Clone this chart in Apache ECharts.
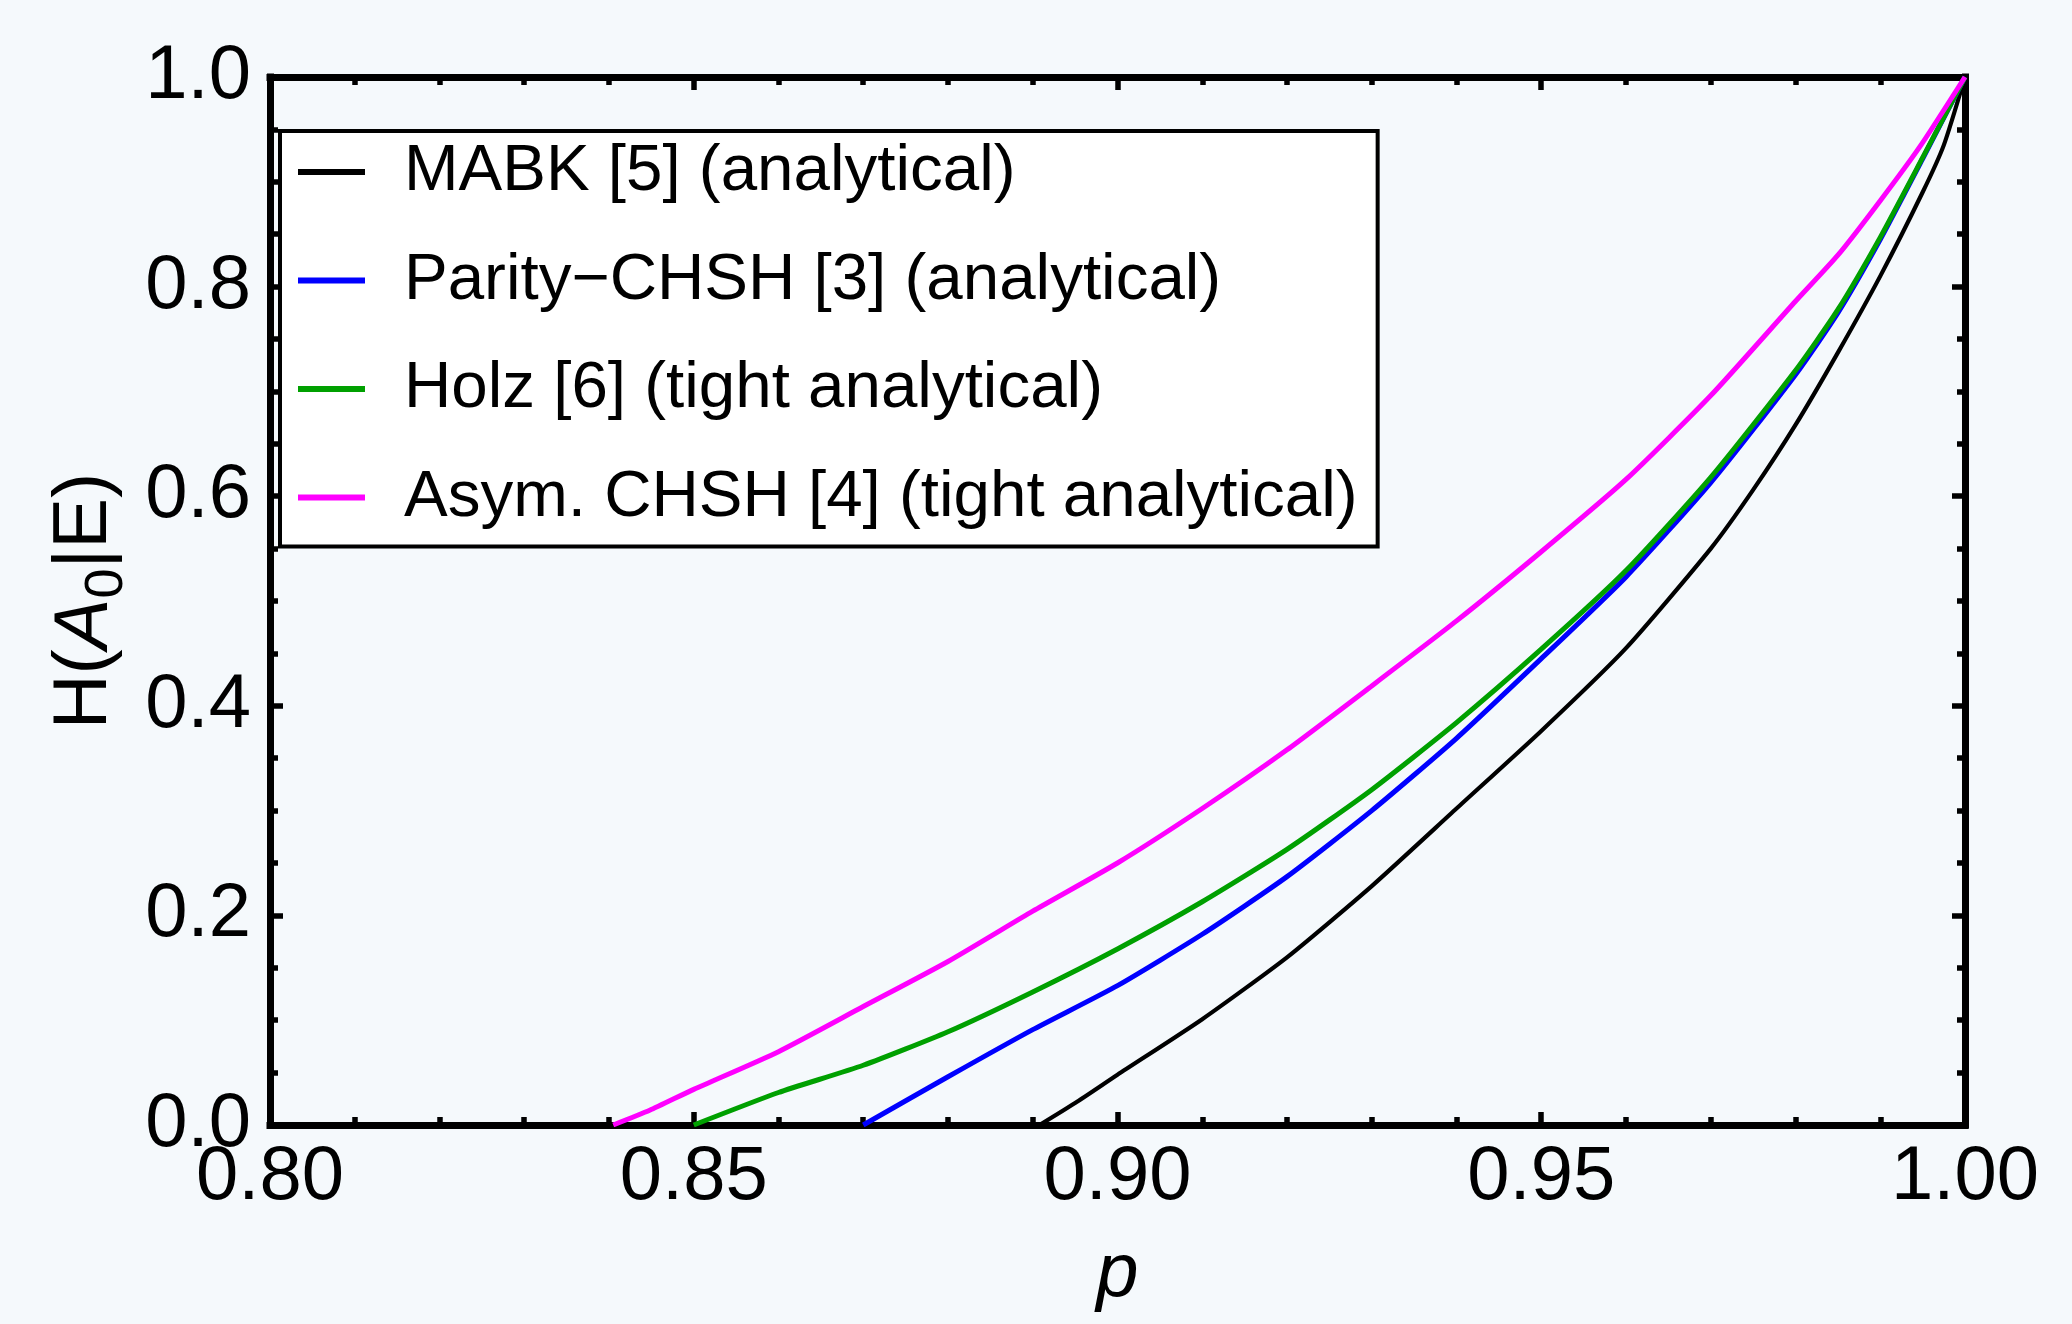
<!DOCTYPE html>
<html>
<head>
<meta charset="utf-8">
<script src="https://cdn.jsdelivr.net/npm/echarts@6/dist/echarts.min.js"></script>
<style>
  html, body { margin: 0; padding: 0; background: #f5f9fc; }
  #chart { width: 2072px; height: 1324px; }
</style>
</head>
<body>
<div id="chart"></div>
<script>
// ---- data ----
const seriesNames = [
  'MABK [5] (analytical)',
  'Parity\u2212CHSH [3] (analytical)',
  'Holz [6] (tight analytical)',
  'Asym. CHSH [4] (tight analytical)'
];

const mabkP = [0.8908, 0.895, 0.90, 0.91, 0.92, 0.93, 0.94, 0.95, 0.96, 0.97, 0.975, 0.98, 0.985, 0.99, 0.995, 0.9975, 1.0];
const mabkH = [0, 0.021, 0.048, 0.101, 0.160, 0.228, 0.302, 0.376, 0.455, 0.550, 0.606, 0.668, 0.737, 0.810, 0.890, 0.935, 1.0];

const parityP = [0.87, 0.88, 0.89, 0.90, 0.91, 0.92, 0.93, 0.94, 0.95, 0.96, 0.97, 0.98, 0.985, 0.99, 0.995, 1.0];
const parityH = [0, 0.046, 0.091, 0.133, 0.182, 0.237, 0.300, 0.369, 0.445, 0.523, 0.613, 0.716, 0.775, 0.845, 0.922, 1.0];

const holzP = [0.85, 0.86, 0.87, 0.88, 0.89, 0.90, 0.91, 0.92, 0.93, 0.94, 0.95, 0.96, 0.97, 0.98, 0.985, 0.99, 0.995, 1.0];
const holzH = [0, 0.031, 0.057, 0.089, 0.127, 0.168, 0.213, 0.263, 0.320, 0.384, 0.454, 0.529, 0.618, 0.720, 0.778, 0.847, 0.923, 1.0];

const asymP = [0.8405, 0.8448, 0.85, 0.86, 0.87, 0.88, 0.89, 0.90, 0.91, 0.92, 0.93, 0.94, 0.95, 0.96, 0.97, 0.98, 0.985, 0.99, 0.9948, 1.0];
const asymH = [0, 0.014, 0.034, 0.070, 0.113, 0.156, 0.204, 0.250, 0.302, 0.358, 0.419, 0.481, 0.547, 0.616, 0.696, 0.786, 0.830, 0.882, 0.935, 1.0];

const xTickLabels = ['0.80', '0.85', '0.90', '0.95', '1.00'];
const yTickLabels = ['0.0', '0.2', '0.4', '0.6', '0.8', '1.0'];

// ---- chart ----
const FONT = '"Liberation Sans", Arial, Helvetica, sans-serif';
const colors = ['#000000', '#0000ff', '#00a000', '#ff00ff'];
const widths = [4.2, 5, 5, 5];

function zip(ps, hs) { return ps.map((p, i) => [p, hs[i]]); }
const datasets = [zip(mabkP, mabkH), zip(parityP, parityH), zip(holzP, holzH), zip(asymP, asymH)];

const chart = echarts.init(document.getElementById('chart'), null, { renderer: 'canvas' });

const tickCommon = { show: true, inside: true, length: 13, lineStyle: { color: '#000', width: 5.5 } };
const minorCommon = { show: true, length: 8, lineStyle: { color: '#000', width: 5.5 } };
const lineCommon = { show: true, onZero: false, lineStyle: { color: '#000', width: 7, cap: 'square' } };

const option = {
  backgroundColor: '#f5f9fc',
  animation: false,
  grid: { left: 270, top: 77, right: 107, bottom: 199, containLabel: false },
  legend: {
    orient: 'vertical',
    left: 280, top: 131,
    data: seriesNames,
    icon: 'rect',
    itemWidth: 67, itemHeight: 6,
    itemGap: 38.5,
    padding: [6, 20, 14, 18],
    backgroundColor: '#ffffff',
    borderColor: '#000000', borderWidth: 4,
    textStyle: { fontFamily: FONT, fontSize: 65.5, color: '#000', lineHeight: 70, padding: [0, 0, 0, 34] },
    selectedMode: false
  },
  xAxis: [
    {
      type: 'value', position: 'bottom', min: 0.8, max: 1.0, interval: 0.05,
      name: 'p', nameLocation: 'middle', nameGap: 112,
      nameTextStyle: { fontFamily: FONT, fontSize: 76, fontStyle: 'italic', color: '#000' },
      axisLine: lineCommon,
      axisTick: tickCommon,
      minorTick: Object.assign({ splitNumber: 5 }, minorCommon),
      splitLine: { show: false },
      axisLabel: {
        show: true, margin: 15, fontFamily: FONT, fontSize: 76, color: '#000',
        formatter: v => xTickLabels[Math.round((v - 0.8) / 0.05)]
      }
    },
    {
      type: 'value', position: 'top', min: 0.8, max: 1.0, interval: 0.05,
      axisLine: lineCommon,
      axisTick: tickCommon,
      minorTick: Object.assign({ splitNumber: 5 }, minorCommon),
      splitLine: { show: false },
      axisLabel: { show: false }
    }
  ],
  yAxis: [
    {
      type: 'value', position: 'left', min: 0, max: 1.0, interval: 0.2,
      name: '{n|H(}{i|A}{s|0}{n||E)}', nameLocation: 'middle', nameRotate: 90, nameGap: 138,
      nameTextStyle: {
        fontFamily: FONT, fontSize: 76, color: '#000',
        rich: {
          n: { fontFamily: FONT, fontSize: 76, color: '#000', lineHeight: 76 },
          i: { fontFamily: FONT, fontSize: 76, fontStyle: 'italic', color: '#000', lineHeight: 76 },
          s: { fontFamily: FONT, fontSize: 54, color: '#000', lineHeight: 54, padding: [44, 0, 0, 0] }
        }
      },
      axisLine: lineCommon,
      axisTick: tickCommon,
      minorTick: Object.assign({ splitNumber: 4 }, minorCommon),
      splitLine: { show: false },
      axisLabel: {
        show: true, margin: 19, fontFamily: FONT, fontSize: 76, color: '#000',
        formatter: v => yTickLabels[Math.round(v / 0.2)]
      }
    },
    {
      type: 'value', position: 'right', min: 0, max: 1.0, interval: 0.2,
      axisLine: lineCommon,
      axisTick: tickCommon,
      minorTick: Object.assign({ splitNumber: 4 }, minorCommon),
      splitLine: { show: false },
      axisLabel: { show: false }
    }
  ],
  series: seriesNames.map((name, i) => ({
    name: name,
    type: 'line',
    xAxisIndex: 0, yAxisIndex: 0,
    data: datasets[i],
    showSymbol: false, symbol: 'none',
    smooth: 0.2,
    clip: true,
    color: colors[i],
    lineStyle: { color: colors[i], width: widths[i], join: 'round' },
    itemStyle: { color: colors[i] },
    z: 2 + i
  }))
};

chart.setOption(option);
</script>
</body>
</html>
